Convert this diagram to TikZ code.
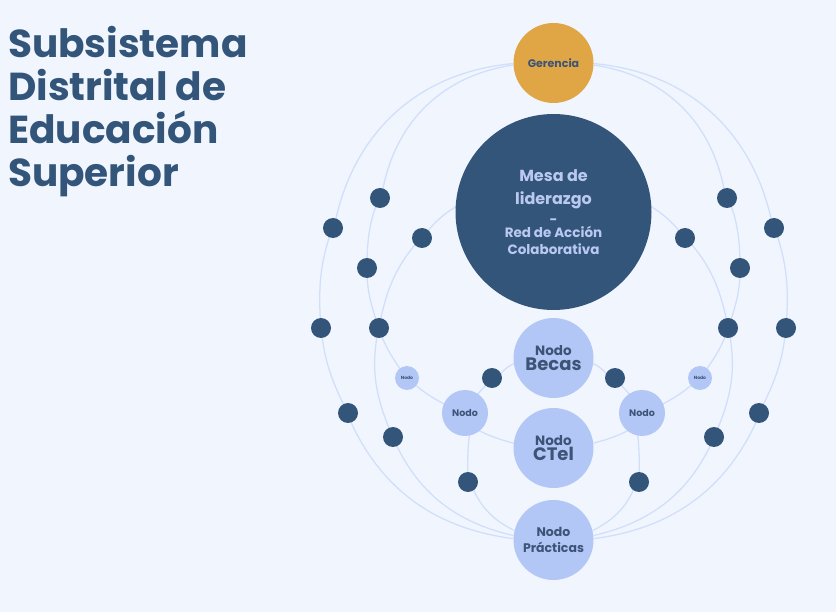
\documentclass[tikz,border=0pt]{standalone}
\usepackage{fontspec}
\setmainfont{Poppins}
\usepackage{tikz}
\definecolor{sdbg}{RGB}{241,246,254}
\definecolor{sdnavy}{RGB}{52,85,122}
\definecolor{sdgold}{RGB}{224,166,70}
\definecolor{sdlight}{RGB}{179,199,247}
\definecolor{sdline}{RGB}{210,223,250}
\definecolor{sdtext}{RGB}{60,84,118}
\definecolor{sdpale}{RGB}{186,201,240}
\pgfdeclarelayer{background}
\pgfsetlayers{background,main}
\tikzstyle{title} = [align=left, inner sep=0pt, text=sdnavy, font=\bfseries\fontsize{39}{43}\selectfont]
\tikzstyle{hub} = [circle, minimum size=80pt, inner sep=0pt, align=center, fill=sdlight, text=sdtext, font=\bfseries\fontsize{13.5}{16}\selectfont]
\tikzstyle{mini} = [circle, minimum size=46pt, inner sep=0pt, fill=sdlight, text=sdtext, font=\bfseries\fontsize{9.5}{10}\selectfont]
\tikzstyle{tiny} = [circle, minimum size=24pt, inner sep=0pt, fill=sdlight, text=sdtext, font=\bfseries\fontsize{4.5}{5}\selectfont]
\tikzstyle{dot} = [circle, minimum size=20pt, inner sep=0pt, fill=sdnavy]
\tikzstyle{link} = [line width=1.3pt, color=sdline]

\begin{document}
\begin{tikzpicture}[x=1pt, y=1pt]
\useasboundingbox (0,0) rectangle (836,-612);

% Title
\node[title, anchor=north west] (title) at (8,-26) {Subsistema\\Distrital de\\Educación\\Superior};

% Central column
\node[hub, fill=sdgold, font=\bfseries\fontsize{11}{12}\selectfont] (gerencia) at (553.5,-63) {Gerencia};
\node[hub, minimum size=196pt, fill=sdnavy, text=sdpale, font=\bfseries\fontsize{13.5}{17}\selectfont] (mesa) at (553.5,-212)
  {{\fontsize{16}{20}\selectfont Mesa de}\\[6pt]{\fontsize{16}{20}\selectfont liderazgo}\\[3pt]-\\[-4pt]Red de Acción\\Colaborativa};
\node[hub] (becas) at (553.5,-358) {Nodo\\[-1pt]{\fontsize{18}{16}\selectfont Becas}};
\node[hub] (ctel) at (553.5,-448) {Nodo\\[-1pt]{\fontsize{18}{16}\selectfont CTel}};
\node[hub, font=\bfseries\fontsize{12.5}{16}\selectfont] (practicas) at (553.5,-540) {Nodo\\Prácticas};

% Side nodes
\node[mini] (nodoL) at (465,-413) {Nodo};
\node[mini] (nodoR) at (642,-413) {Nodo};
\node[tiny] (chicoL) at (407,-378) {Nodo};
\node[tiny] (chicoR) at (700,-378) {Nodo};

% Dots, left
\node[dot] (lo1) at (333,-228) {};
\node[dot] (lo2) at (321,-328) {};
\node[dot] (lo3) at (348,-413) {};
\node[dot] (lm1) at (380,-198) {};
\node[dot] (lm2) at (367,-268) {};
\node[dot] (lm3) at (379,-328) {};
\node[dot] (li1) at (422,-238) {};
\node[dot] (li2) at (393,-437) {};
\node[dot] (lc1) at (492,-378) {};
\node[dot] (lc2) at (468,-482) {};

% Dots, right
\node[dot] (ro1) at (774,-228) {};
\node[dot] (ro2) at (786,-328) {};
\node[dot] (ro3) at (759,-413) {};
\node[dot] (rm1) at (727,-198) {};
\node[dot] (rm2) at (740,-268) {};
\node[dot] (rm3) at (728,-328) {};
\node[dot] (ri1) at (685,-238) {};
\node[dot] (ri2) at (714,-437) {};
\node[dot] (rc1) at (615,-378) {};
\node[dot] (rc2) at (639,-482) {};

\begin{pgfonlayer}{background}
\fill[sdbg] (0,0) rectangle (836,-612);

% Outer ring
\draw[link] (gerencia) to[bend right=36] (lo1) to[bend right=12] (lo2) to[bend right=11] (lo3) to[bend right=31] (practicas);
\draw[link] (gerencia) to[bend left=36] (ro1) to[bend left=12] (ro2) to[bend left=11] (ro3) to[bend left=31] (practicas);

% Middle ring
\draw[link] (gerencia) to[bend right=35] (lm1) to[bend right=11] (lm2) to[bend right=10] (lm3) to[bend right=9] (chicoL) to[bend right=11] (nodoL) to[bend right=15] (ctel);
\draw[link] (gerencia) to[bend left=35] (rm1) to[bend left=11] (rm2) to[bend left=10] (rm3) to[bend left=9] (chicoR) to[bend left=11] (nodoR) to[bend left=15] (ctel);

% Inner ring
\draw[link] (mesa.177) to[bend right=8] (li1) to[bend right=16] (lm3) to[bend right=18] (li2) to[bend right=28] (practicas);
\draw[link] (mesa.3) to[bend left=8] (ri1) to[bend left=16] (rm3) to[bend left=18] (ri2) to[bend left=28] (practicas);

% Links around the side nodes
\draw[link] (becas) to[bend right=10] (lc1) to[bend right=8] (nodoL) to[bend right=8] (lc2) to[bend right=25] (practicas);
\draw[link] (becas) to[bend left=10] (rc1) to[bend left=8] (nodoR) to[bend left=8] (rc2) to[bend left=25] (practicas);
\end{pgfonlayer}
\end{tikzpicture}
\end{document}
